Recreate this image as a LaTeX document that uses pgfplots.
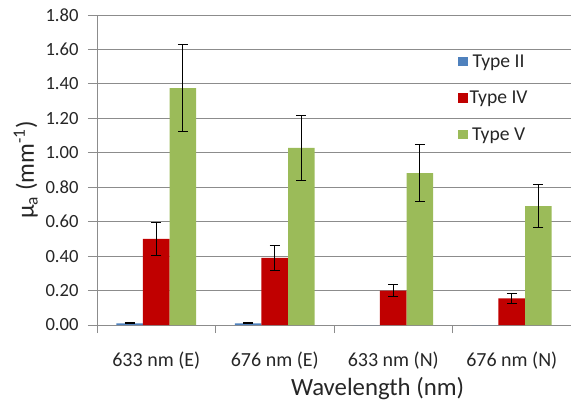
\documentclass[border=0pt]{standalone}
\usepackage{pgfplots}
\pgfplotsset{compat=1.18}
\usepackage{fontspec}
\setmainfont{Carlito}
\definecolor{typeII}{HTML}{4F81BD}
\definecolor{typeIV}{HTML}{C00000}
\definecolor{typeV}{HTML}{9BBB59}
\definecolor{gridgray}{HTML}{8C8C8C}
\definecolor{txt}{HTML}{262626}
\newcommand\yticksize{\fontsize{18.6bp}{22bp}\selectfont}
\newcommand\xticksize{\fontsize{20bp}{24bp}\selectfont}
\newcommand\legsize{\fontsize{19.6bp}{23bp}\selectfont}
\newcommand\titlesize{\fontsize{24.8bp}{29bp}\selectfont}

\begin{document}
\begin{tikzpicture}
\begin{axis}[
  scale only axis,
  width=474bp, height=310bp,
  at={(0,0)}, anchor=south west,
  ybar=0pt,
  bar width=0.224,
  xmin=-0.5, xmax=3.5,
  ymin=0, ymax=1.8,
  xtick={0,1,2,3},
  xticklabels={633 nm (E),676 nm (E),633 nm (N),676 nm (N)},
  minor xtick={-0.5,0.5,1.5,2.5,3.5},
  major x tick style={draw=none},
  minor tick length=8bp,
  ytick={0,0.2,...,1.8},
  major tick length=9bp,
  tick align=outside,
  tick style={gridgray, line width=0.8pt},
  axis x line*=bottom,
  axis y line*=left,
  axis line style={gridgray, line width=0.8pt, -},
  ymajorgrids,
  major grid style={gridgray, line width=0.8pt},
  /pgf/number format/assume math mode=true,
  yticklabel={\pgfmathprintnumber[fixed,fixed zerofill,precision=2]{\tick}},
  tick label style={text=txt},
  yticklabel style={font=\yticksize, xshift=-6bp},
  xticklabel style={font=\xticksize, yshift=-14bp},
  xlabel={Wavelength (nm)},
  xlabel style={at={(axis description cs:0.592,0)}, anchor=north, yshift=-49bp,
    font=\titlesize, text=txt},
  ylabel={μ\textsubscript{a} (mm\textsuperscript{-1})},
  ylabel style={at={(axis description cs:-0.150,0.5)}, anchor=center,
    font=\titlesize, text=txt},
  legend style={draw=none, fill=none, at={(axis description cs:0.755,0.885)}, anchor=north west,
    font=\legsize, text=txt, row sep=18.5bp,
    /tikz/every even column/.append style={column sep=3bp}},
  legend image code/.code={\fill[#1] (0bp,-4.5bp) rectangle (9.5bp,5bp);},
  error bars/error bar style={black, line width=0.8pt},
  error bars/error mark options={rotate=90, mark size=5bp, line width=0.8pt},
]
% Type II
\addplot[fill=typeII, draw=none, bar shift=-0.224,
  error bars/.cd, y dir=both, y explicit]
  coordinates {(0,0.010) +- (0,0.003) (1,0.010) +- (0,0.003) (2,0) (3,0)};
% Type IV
\addplot[fill=typeIV, draw=none, bar shift=0,
  error bars/.cd, y dir=both, y explicit]
  coordinates {(0,0.50) +- (0,0.095) (1,0.39) +- (0,0.072) (2,0.20) +- (0,0.036) (3,0.155) +- (0,0.030)};
% Type V
\addplot[fill=typeV, draw=none, bar shift=0.224,
  error bars/.cd, y dir=both, y explicit]
  coordinates {(0,1.375) +- (0,0.253) (1,1.028) +- (0,0.19) (2,0.882) +- (0,0.165) (3,0.69) +- (0,0.126)};
\legend{Type II,Type IV,Type V}
\end{axis}
\pgfresetboundingbox
\useasboundingbox (-97bp,-80bp) rectangle (474bp,325bp);
\end{tikzpicture}
\end{document}
